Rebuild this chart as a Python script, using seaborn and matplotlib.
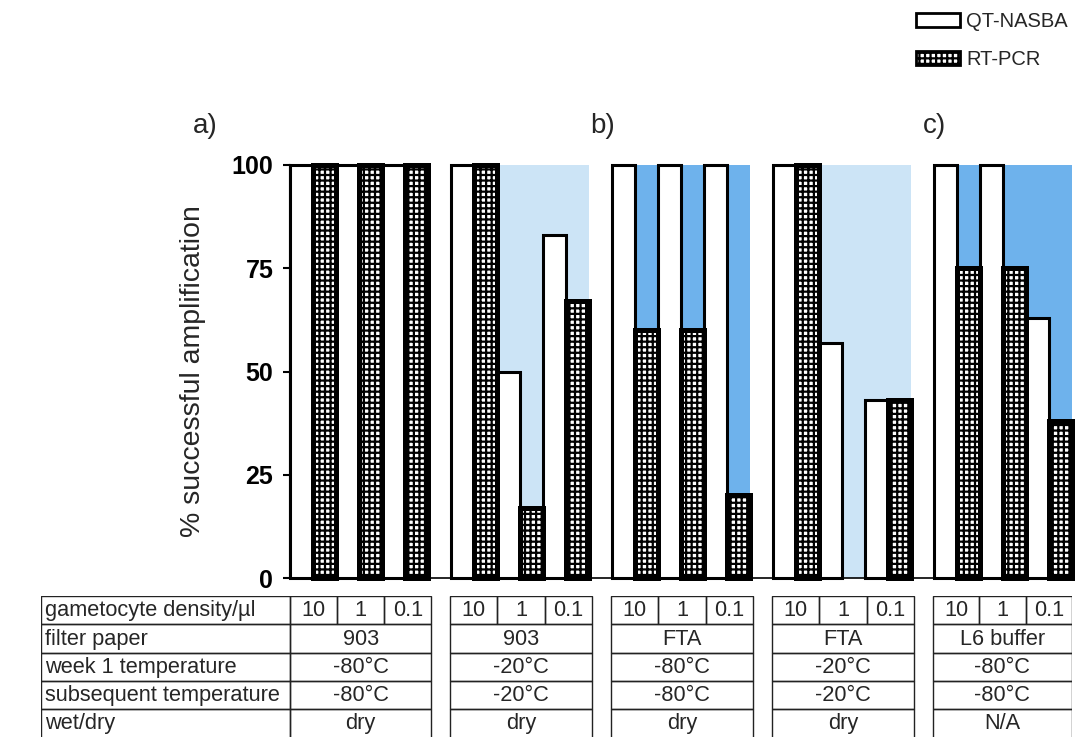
import numpy as np
import pandas as pd
import matplotlib
matplotlib.use('Agg')
import matplotlib.pyplot as plt
from matplotlib.patches import Rectangle, Patch
import seaborn as sns

# ---------------- data ----------------
methods = ['QT-NASBA', 'RT-PCR']
densities = ['10', '1', '0.1']
qt_nasba = [[100, 100, 100], [100, 50, 83], [100, 100, 100], [100, 57, 43], [100, 100, 63]]
rt_pcr = [[100, 100, 100], [100, 17, 67], [60, 60, 20], [100, 0, 43], [75, 75, 38]]
filter_paper = ['903', '903', 'FTA', 'FTA', 'L6 buffer']
week1_temp = ['-80°C', '-20°C', '-80°C', '-20°C', '-80°C']
subsequent_temp = ['-80°C', '-20°C', '-80°C', '-20°C', '-80°C']
wet_dry = ['dry', 'dry', 'dry', 'dry', 'N/A']
row_labels = ['gametocyte density/µl', 'filter paper', 'week 1 temperature',
              'subsequent temperature', 'wet/dry']
panel_labels = ['a)', 'b)', 'c)']
yticks = [0, 25, 50, 75, 100]

# ---------------- styling ----------------
sns.set_theme(style='ticks')
plt.rcParams['font.family'] = ['Liberation Sans', 'DejaVu Sans']
plt.rcParams['hatch.linewidth'] = 1.6

LIGHT = '#cce4f6'
DARK = '#6eb2ec'
shading = [None, (LIGHT, 2), (DARK, 1), (LIGHT, 2), (DARK, 1)]
panel_x = [-3.7, 13.6, 28.0]
HATCH = '+++'

STEP = 7
records = []
for g in range(5):
    for p in range(3):
        base = g * STEP + 2 * p
        records.append({'pos': base + 0.5, 'method': methods[0], 'value': qt_nasba[g][p]})
        records.append({'pos': base + 1.5, 'method': methods[1], 'value': rt_pcr[g][p]})
df = pd.DataFrame(records)

W, H = 1092, 737
fig = plt.figure(figsize=(W / 100, H / 100), dpi=100)
fig.patch.set_facecolor('white')
ax = fig.add_axes([290 / W, 1 - 578 / H, (1072 - 290) / W, (578 - 165) / H])
ax.set_facecolor('white')

# background shading
for g, sh in enumerate(shading):
    if sh is None:
        continue
    col, off = sh
    ax.axvspan(g * STEP + off, g * STEP + 6, color=col, lw=0, zorder=0)

sns.barplot(data=df, x='pos', y='value', hue='method', hue_order=methods,
            native_scale=True, dodge=False, width=1.0, errorbar=None,
            palette={methods[0]: 'white', methods[1]: 'white'}, saturation=1,
            legend=False, ax=ax, zorder=2)

for i, cont in enumerate(ax.containers):
    for bar in cont:
        bar.set_edgecolor('black')
        bar.set_facecolor('white')
        bar.set_clip_on(False)
        if bar.get_height() == 0:
            bar.set_linewidth(0)
            continue
        if i == 1:
            bar.set_hatch(HATCH)
            bar.set_linewidth(3.6)
            bar.set_zorder(3)
        else:
            bar.set_linewidth(2.2)
            bar.set_zorder(2)

ax.set_xlim(0, 34)
ax.set_ylim(0, 100)
ax.set_xticks([])
ax.set_xlabel('')
ax.set_yticks(yticks)
ax.set_yticklabels([str(t) for t in yticks], fontsize=18, fontweight='bold')
ax.tick_params(axis='y', length=5, width=1.5, pad=7, colors='black')
for s in ['top', 'right']:
    ax.spines[s].set_visible(False)
ax.spines['left'].set_linewidth(1.5)
ax.spines['left'].set_color('black')
ax.spines['bottom'].set_linewidth(1.2)
ax.spines['bottom'].set_color('black')
ax.spines['left'].set_zorder(5)

ax.set_ylabel('% successful amplification', fontsize=20.5)
ax.yaxis.set_label_coords(-0.108, 0.5)

for lab, px in zip(panel_labels, panel_x):
    ax.text(px, 109.5, lab, fontsize=20, ha='center', va='center', clip_on=False)

# legend
handles = [Patch(facecolor='white', edgecolor='black', linewidth=2),
           Patch(facecolor='white', edgecolor='black', linewidth=2, hatch=HATCH)]
fig.legend(handles=handles, labels=methods, loc='upper left',
           bbox_to_anchor=(916 / W, 1 - 12 / H), frameon=False, fontsize=14.5,
           handlelength=2.2, handleheight=0.65, handletextpad=0.3,
           labelspacing=0.95, borderpad=0, borderaxespad=0)

# ---------------- table ----------------
unit = (1072 - 290) / 34.0
left_units = -(290 - 41) / unit
tax = fig.add_axes([41 / W, 0, (1072 - 41) / W, (737 - 596) / H])
tax.set_xlim(left_units, 34)
tax.set_ylim(4.98, 0)
tax.axis('off')

LW = 1.0
EC = '#222222'
FS = 15.7
# label column
for r, lab in enumerate(row_labels):
    tax.add_patch(Rectangle((left_units, r), -left_units, 1, fill=False, ec=EC, lw=LW))
    tax.text(left_units + 0.18, r + 0.52, lab, fontsize=FS, ha='left', va='center')

row_values = [filter_paper, week1_temp, subsequent_temp, wet_dry]
for g in range(5):
    x0 = g * STEP - (0 if g == 0 else 0.05)
    x1 = min(g * STEP + 6.15, 34)
    wdt = x1 - x0
    # density row
    for p in range(3):
        sx = x0 + p * wdt / 3
        tax.add_patch(Rectangle((sx, 0), wdt / 3, 1, fill=False, ec=EC, lw=LW))
        tax.text(sx + wdt / 6, 0.52, densities[p], fontsize=FS, ha='center', va='center')
    for r, vals in enumerate(row_values, start=1):
        tax.add_patch(Rectangle((x0, r), wdt, 1, fill=False, ec=EC, lw=LW))
        tax.text(x0 + wdt / 2, r + 0.52, vals[g], fontsize=FS, ha='center', va='center')

fig.savefig('out.png', dpi=100, facecolor='white')
